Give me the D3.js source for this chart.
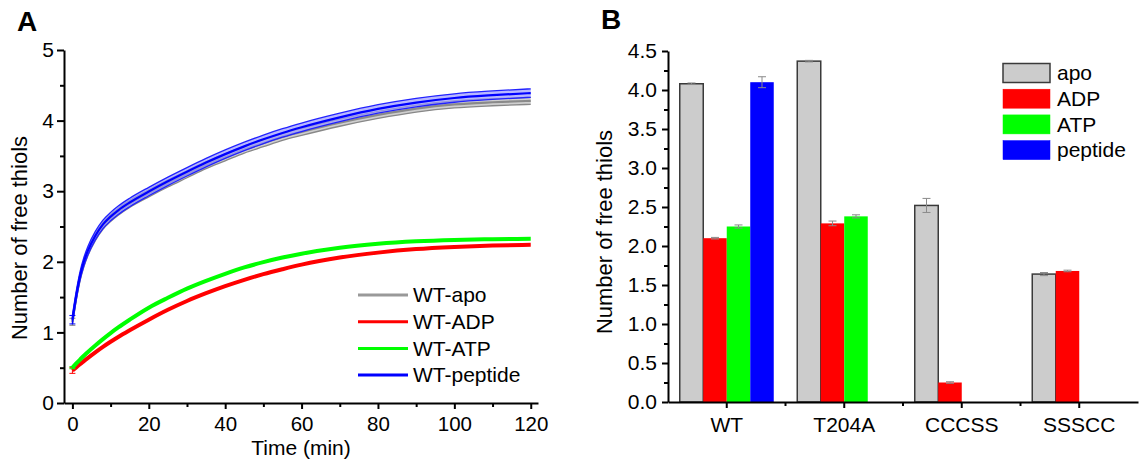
<!DOCTYPE html>
<html><head><meta charset="utf-8">
<script src="https://cdn.jsdelivr.net/npm/d3@7"></script>
<style>
body{margin:0;background:#fff}
svg{display:block}
text{font-family:"Liberation Sans",Arial,sans-serif;fill:#000}
</style>
</head><body><svg id="c" width="1141" height="460"></svg>
<script>
// ---------- Panel A data ----------
const times      = [0,1,2,3,4,6,8,10,12,15,20,25,30,35,40,45,50,55,60,70,80,90,100,110,120];
const wtApo      = [1.15,1.50,1.78,1.98,2.13,2.35,2.51,2.62,2.71,2.82,2.97,3.11,3.24,3.37,3.48,3.59,3.68,3.77,3.84,3.97,4.08,4.17,4.23,4.26,4.28];
const wtADP      = [0.46,0.505,0.55,0.593,0.636,0.718,0.795,0.867,0.935,1.03,1.18,1.32,1.445,1.555,1.655,1.745,1.825,1.895,1.96,2.06,2.13,2.18,2.21,2.23,2.24];
const wtATP      = [0.50,0.56,0.615,0.67,0.72,0.815,0.905,0.99,1.07,1.18,1.35,1.49,1.62,1.73,1.83,1.92,1.995,2.06,2.115,2.20,2.255,2.29,2.31,2.32,2.325];
const wtPeptide  = [1.18,1.52,1.80,2.00,2.15,2.37,2.53,2.64,2.73,2.84,2.995,3.14,3.275,3.405,3.525,3.635,3.735,3.825,3.905,4.045,4.165,4.255,4.32,4.36,4.39];
const seriesNames = ["WT-apo","WT-ADP","WT-ATP","WT-peptide"];
const seriesErr   = [0.05,0.015,0.015,0.06];
const seriesColors = ["#999999","#ff0000","#00ff00","#0000ff"];
const xTicksA = [0,20,40,60,80,100,120];
const xMinorA = [10,30,50,70,90,110];
const yTicksA = [0,1,2,3,4,5];
const yMinorA = [0.5,1.5,2.5,3.5,4.5];

// ---------- Panel B data ----------
const categories  = ["WT","T204A","CCCSS","SSSCC"];
const conditions  = ["apo","ADP","ATP","peptide"];
const apoVals     = [4.08,4.37,2.52,1.64];
const apoErr      = [0.01,0.01,0.09,0.02];
const adpVals     = [2.10,2.29,0.25,1.68];
const adpErr      = [0.01,0.03,0.01,0.01];
const atpVals     = [2.25,2.38,null,null];
const atpErr      = [0.02,0.02,null,null];
const peptideVals = [4.10,null,null,null];
const peptideErr  = [0.07,null,null,null];
const barColors   = ["#cccccc","#ff0000","#00ff00","#0000ff"];
const yTicksB = [0,0.5,1,1.5,2,2.5,3,3.5,4,4.5];
const yMinorB = [0.25,0.75,1.25,1.75,2.25,2.75,3.25,3.75,4.25];

const svg = d3.select("#c");
svg.append("rect").attr("width",1141).attr("height",460).attr("fill","#fff");

function styleAxis(g, fs){
  g.selectAll("path.domain").attr("stroke","#000").attr("stroke-width",2);
  g.selectAll(".tick line").attr("stroke","#000").attr("stroke-width",2);
  g.selectAll(".tick text").attr("font-size",fs||21).attr("font-family","'Liberation Sans',Arial,sans-serif").attr("fill","#000");
}

// ================= Panel A =================
const xA = d3.scaleLinear().domain([-2.2,121.9]).range([64,538]);
const yA = d3.scaleLinear().domain([0,5]).range([403,50]);

const seriesVals = [wtApo,wtADP,wtATP,wtPeptide];
const lineGen = vals => d3.line().x((d,i)=>xA(times[i])).y((d,i)=>yA(vals[i])).curve(d3.curveMonotoneX)(vals);
const bandGen = (vals,e) => d3.area().x((d,i)=>xA(times[i])).y0((d,i)=>yA(vals[i]-e)).y1((d,i)=>yA(vals[i]+e)).curve(d3.curveMonotoneX)(vals);
const offGen = (vals,e) => d3.line().x((d,i)=>xA(times[i])).y((d,i)=>yA(vals[i]+e)).curve(d3.curveMonotoneX)(vals);

const gA = svg.append("g");
seriesVals.forEach((vals,k)=>{
  const c = seriesColors[k], e = seriesErr[k];
  if (k===0 || k===3){
    gA.append("path").attr("d",bandGen(vals,e)).attr("fill", k===3 ? "#9a9aff" : "#bbbbbb").attr("opacity",0.7);
    [e,-e].forEach(o=>gA.append("path").attr("d",offGen(vals,o)).attr("fill","none")
      .attr("stroke", k===3 ? "#2222ff" : "#888").attr("stroke-width",1.3));
    gA.append("path").attr("d",lineGen(vals)).attr("fill","none").attr("stroke", k===3 ? "#0000ff" : "#8a8a8a").attr("stroke-width",2.2);
  } else {
    gA.append("path").attr("d",lineGen(vals)).attr("fill","none").attr("stroke",c).attr("stroke-width",4);
  }
  const x0 = xA(times[0]);
  const eb = k===1 ? 0.04 : e;
  const ec = k===0 ? "#888" : c;
  gA.append("line").attr("x1",x0).attr("x2",x0).attr("y1",yA(vals[0]-eb)).attr("y2",yA(vals[0]+eb)).attr("stroke",ec).attr("stroke-width",1);
  [-eb,eb].forEach(o=>gA.append("line").attr("x1",x0-3).attr("x2",x0+3).attr("y1",yA(vals[0]+o)).attr("y2",yA(vals[0]+o)).attr("stroke",ec).attr("stroke-width",1));
});

// axes A
const axXA = svg.append("g").attr("transform","translate(0,403)")
  .call(d3.axisBottom(xA).tickValues(xTicksA).tickSize(6).tickPadding(7).tickSizeOuter(0).tickFormat(d3.format("d")));
styleAxis(axXA, 20.5);
const axXAm = svg.append("g").attr("transform","translate(0,403)")
  .call(d3.axisBottom(xA).tickValues(xMinorA).tickSize(4).tickFormat(""));
axXAm.select("path.domain").remove(); styleAxis(axXAm);
const axYA = svg.append("g").attr("transform","translate(64,0)")
  .call(d3.axisLeft(yA).tickValues(yTicksA).tickSize(7).tickPadding(3).tickSizeOuter(0).tickFormat(d3.format("d")));
styleAxis(axYA);
const axYAm = svg.append("g").attr("transform","translate(64,0)")
  .call(d3.axisLeft(yA).tickValues(yMinorA).tickSize(4).tickFormat(""));
axYAm.select("path.domain").remove(); styleAxis(axYAm);

svg.append("text").attr("x",301).attr("y",454.5).attr("text-anchor","middle").attr("font-size",21).text("Time (min)");
svg.append("text").attr("transform","translate(27,238) rotate(-90)").attr("text-anchor","middle").attr("font-size",22).text("Number of free thiols");
svg.append("text").attr("x",17).attr("y",31).attr("font-size",28).attr("font-weight","bold").text("A");

// legend A
const legA = svg.append("g");
seriesNames.forEach((n,i)=>{
  const y = 295 + i*26.7;
  legA.append("line").attr("x1",358).attr("x2",408).attr("y1",y).attr("y2",y).attr("stroke",seriesColors[i]).attr("stroke-width",3);
  legA.append("text").attr("x",413).attr("y",y).attr("dy","0.35em").attr("font-size",21).text(n);
});

// ================= Panel B =================
const xB = d3.scaleBand().domain(categories).range([668,1138]).paddingInner(0).paddingOuter(0);
const xSub = d3.scaleBand().domain(conditions).range([0,xB.bandwidth()]).paddingInner(0).paddingOuter(0.5);
const yB = d3.scaleLinear().domain([0,4.5]).range([402,51]);

const condVals = [apoVals,adpVals,atpVals,peptideVals];
const condErr = [apoErr,adpErr,atpErr,peptideErr];
const gB = svg.append("g");
categories.forEach((cat,ci)=>{
  conditions.forEach((cond,k)=>{
    const v = condVals[k][ci];
    if (v===null) return;
    const x = xB(cat)+xSub(cond), w = xSub.bandwidth();
    gB.append("rect").attr("x",x).attr("y",yB(v)).attr("width",w).attr("height",yB(0)-yB(v))
      .attr("fill",barColors[k]).attr("stroke",k===0?"#3a3a3a":"none").attr("stroke-width",k===0?1.5:0);
    const e = condErr[k][ci], cx = x + w/2;
    gB.append("line").attr("x1",cx).attr("x2",cx).attr("y1",yB(v-e)).attr("y2",yB(v+e)).attr("stroke","#8a8a8a").attr("stroke-width",1);
    [-e,e].forEach(o=>gB.append("line").attr("x1",cx-4).attr("x2",cx+4).attr("y1",yB(v+o)).attr("y2",yB(v+o)).attr("stroke","#8a8a8a").attr("stroke-width",1));
  });
});

const axXB = svg.append("g").attr("transform","translate(0,402)")
  .call(d3.axisBottom(xB).tickSize(6).tickPadding(9).tickSizeOuter(0));
styleAxis(axXB);
categories.slice(1).forEach(cat=>{
  svg.append("line").attr("x1",xB(cat)).attr("x2",xB(cat)).attr("y1",402).attr("y2",406).attr("stroke","#000").attr("stroke-width",2);
});
const axYB = svg.append("g").attr("transform","translate(668,0)")
  .call(d3.axisLeft(yB).tickValues(yTicksB).tickSize(6).tickPadding(5).tickSizeOuter(0).tickFormat(d3.format(".1f")));
styleAxis(axYB);
const axYBm = svg.append("g").attr("transform","translate(668,0)")
  .call(d3.axisLeft(yB).tickValues(yMinorB).tickSize(4).tickFormat(""));
axYBm.select("path.domain").remove(); styleAxis(axYBm);

svg.append("text").attr("transform","translate(612,232) rotate(-90)").attr("text-anchor","middle").attr("font-size",22).text("Number of free thiols");
svg.append("text").attr("x",601).attr("y",29).attr("font-size",28).attr("font-weight","bold").text("B");

// legend B
const legB = svg.append("g");
conditions.forEach((c,i)=>{
  const y = 73 + i*25.7;
  legB.append("rect").attr("x",1003).attr("y",y-9.5).attr("width",47).attr("height",19)
    .attr("fill",barColors[i]).attr("stroke",i===0?"#3a3a3a":barColors[i]).attr("stroke-width",i===0?1.5:0.5);
  legB.append("text").attr("x",1057).attr("y",y).attr("dy","0.35em").attr("font-size",21).text(c);
});
</script>
</body></html>
